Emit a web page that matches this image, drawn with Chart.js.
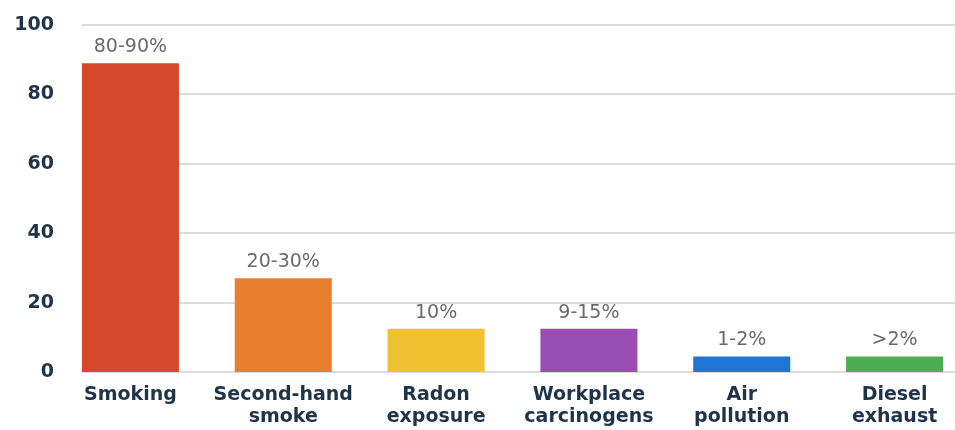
<!DOCTYPE html>
<html>
<head>
<meta charset="utf-8">
<script src="https://cdn.jsdelivr.net/npm/chart.js@4"></script>
<style>
  html, body { margin: 0; padding: 0; background: #fff; }
  .frame { width: 955px; height: 430px; overflow: hidden; }
  .wrap { width: 975px; height: 430px; }
</style>
</head>
<body>
<div class="frame"><div class="wrap"><canvas id="riskChart"></canvas></div></div>
<script>
const categories = ['Smoking', ['Second-hand', 'smoke'], ['Radon', 'exposure'], ['Workplace', 'carcinogens'], ['Air', 'pollution'], ['Diesel', 'exhaust']];
const riskValues = [89, 27, 12.5, 12.5, 4.5, 4.5];
const riskLabels = ['80-90%', '20-30%', '10%', '9-15%', '1-2%', '>2%'];
const barColors = ['#d6482b', '#e87e2e', '#f0c132', '#9a4db4', '#1e76d2', '#4cae50'];
const yTicks = [0, 20, 40, 60, 80, 100];

const axisColor = '#1f3448';

// horizontal grid lines that begin at the left edge of the first bar
const gridFromFirstBar = {
  id: 'gridFromFirstBar',
  beforeDatasetsDraw(chart) {
    const { ctx, chartArea, scales: { y } } = chart;
    const first = chart.getDatasetMeta(0).data[0];
    if (!first) return;
    const x0 = first.x - first.width / 2;
    ctx.save();
    ctx.strokeStyle = '#dcdcdc';
    ctx.lineWidth = 2;
    y.ticks.forEach(t => {
      const py = Math.round(y.getPixelForValue(t.value));
      ctx.beginPath();
      ctx.moveTo(x0, py);
      ctx.lineTo(chartArea.right, py);
      ctx.stroke();
    });
    ctx.restore();
  }
};

// range text above each bar
const rangeText = {
  id: 'rangeText',
  afterDatasetsDraw(chart) {
    const { ctx } = chart;
    ctx.save();
    ctx.font = '19px "DejaVu Sans"';
    ctx.fillStyle = '#6a6a6a';
    ctx.textAlign = 'center';
    ctx.textBaseline = 'middle';
    chart.getDatasetMeta(0).data.forEach((bar, i) => {
      ctx.fillText(riskLabels[i], bar.x, bar.y - 16);
    });
    ctx.restore();
  }
};

new Chart(document.getElementById('riskChart'), {
  type: 'bar',
  data: {
    labels: categories,
    datasets: [{
      data: riskValues,
      backgroundColor: barColors,
      borderWidth: 0,
      barPercentage: 0.635,
      categoryPercentage: 1
    }]
  },
  options: {
    responsive: true,
    maintainAspectRatio: false,
    animation: false,
    layout: { padding: { top: 25, bottom: 2, left: 0, right: 4 } },
    plugins: {
      legend: { display: false },
      tooltip: { enabled: false }
    },
    scales: {
      x: {
        grid: { display: false, drawTicks: false },
        border: { display: false },
        ticks: {
          color: axisColor,
          font: { family: 'DejaVu Sans', size: 19, weight: 'bold', lineHeight: 1.16 },
          padding: 12,
          maxRotation: 0,
          autoSkip: false
        },
        afterFit(scale) { scale.height = 56; }
      },
      y: {
        min: yTicks[0],
        max: yTicks[yTicks.length - 1],
        grid: { display: false, drawTicks: false },
        border: { display: false },
        ticks: {
          stepSize: yTicks[1] - yTicks[0],
          color: axisColor,
          font: { family: 'DejaVu Sans', size: 19, weight: 'bold' },
          padding: 0
        },
        afterFit(scale) { scale.width = 54; }
      }
    }
  },
  plugins: [gridFromFirstBar, rangeText]
});
</script>
</body>
</html>
